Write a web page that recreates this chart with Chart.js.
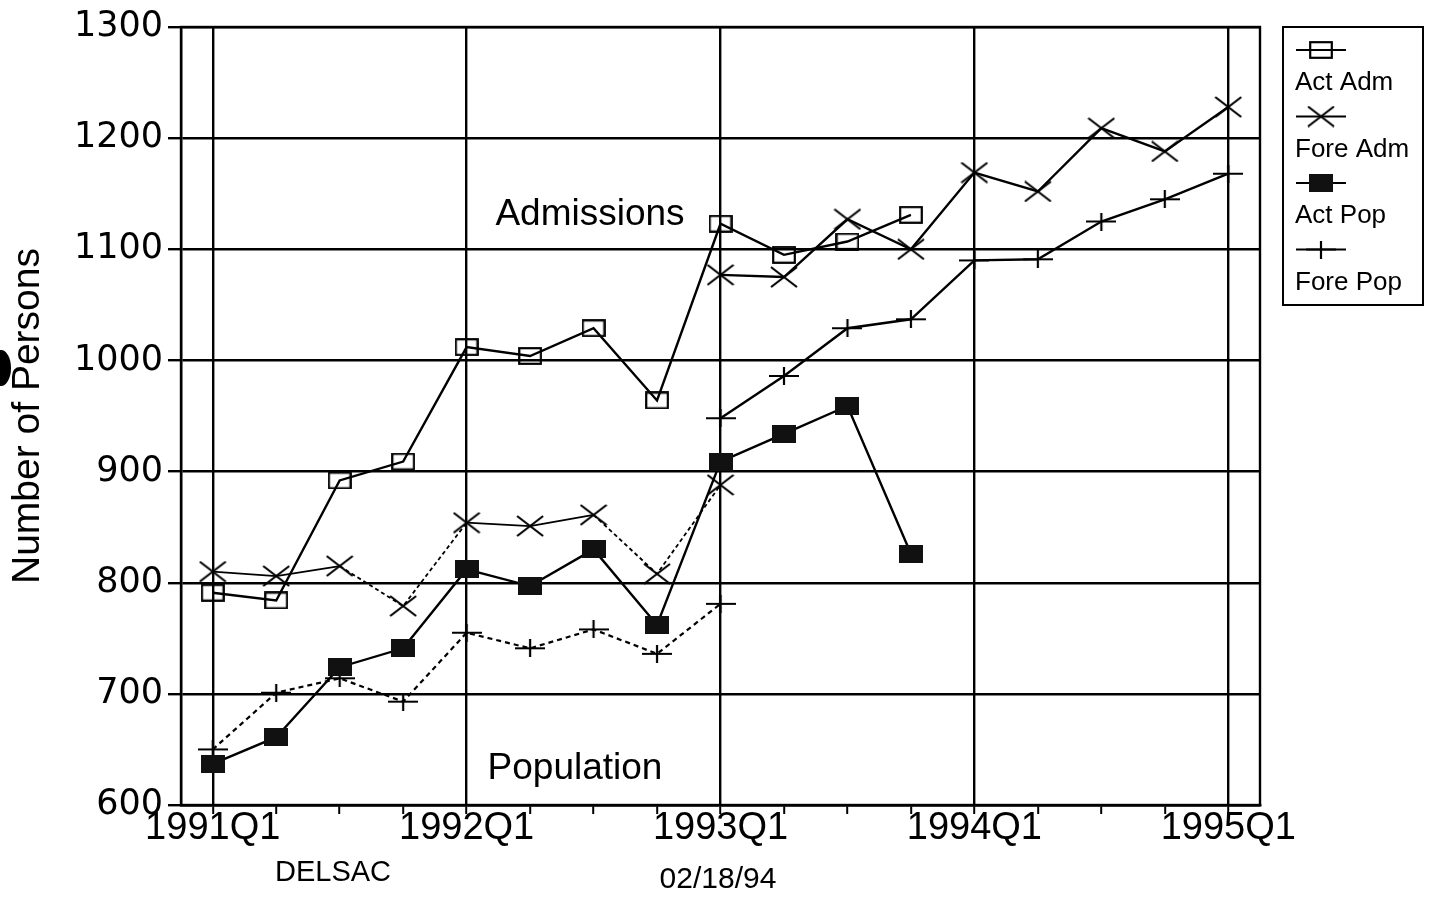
<!DOCTYPE html>
<html>
<head>
<meta charset="utf-8">
<title>DELSAC Admissions and Population</title>
<script src="https://cdn.jsdelivr.net/npm/chart.js@4.4.1/dist/chart.umd.min.js"></script>
<style>
  body { margin: 0; background: #fff; }
  #caixa { width: 1436px; height: 898px; }
</style>
</head>
<body>
<div id="caixa"><canvas id="cvs_grafico" width="1436" height="898"></canvas></div>
<script>
// dados (trimestres 1991Q1 .. 1995Q1)
const trimestres = ["1991Q1", "1991Q2", "1991Q3", "1991Q4",
  "1992Q1", "1992Q2", "1992Q3", "1992Q4",
  "1993Q1", "1993Q2", "1993Q3", "1993Q4",
  "1994Q1", "1994Q2", "1994Q3", "1994Q4", "1995Q1"];

const actAdm = [791, 784, 892, 909, 1012, 1004, 1029, 964, 1123, 1095, 1107, 1131, null, null, null, null, null];
const foreAdm = [null, null, null, null, null, null, null, null, 1077, 1075, 1127, 1100, 1169, 1152, 1209, 1188, 1228];
const foreAdmAntigo = [810, 806, 815, 779, 854, 851, 861, 808, 888, null, null, null, null, null, null, null, null];
const actPop = [637, 661, 724, 741, 812, 797, 830, 762, 909, 934, 959, 826, null, null, null, null, null];
const forePop = [null, null, null, null, null, null, null, null, 948, 986, 1029, 1037, 1090, 1091, 1125, 1145, 1168];
const forePopAntigo = [650, 701, 714, 693, 755, 741, 758, 736, 781, null, null, null, null, null, null, null, null];

const legendas = ["Act Adm", "Fore Adm", "Act Pop", "Fore Pop"];
const ticksY = [600, 700, 800, 900, 1000, 1100, 1200, 1300];

// MARCADORES (desenhados em canvas pequenos)
function criarMarcador(w, h, desenho) {
  const c = document.createElement("canvas");
  c.width = w;
  c.height = h;
  const g = c.getContext("2d");
  g.strokeStyle = "#000";
  g.fillStyle = "#000";
  g.lineWidth = 2.2;
  desenho(g, w, h);
  return c;
}

const mQuadrado = criarMarcador(24, 18, (g, w, h) => g.strokeRect(1.2, 1.2, w - 2.4, h - 2.4));
const mCheio = criarMarcador(24, 18, (g, w, h) => {
  g.fillStyle = "#111";
  g.fillRect(0, 0, w, h);
});
const mX = criarMarcador(28, 22, (g, w, h) => {
  g.beginPath();
  g.moveTo(1, 1); g.lineTo(w - 1, h - 1);
  g.moveTo(w - 1, 1); g.lineTo(1, h - 1);
  g.stroke();
});
const mMais = criarMarcador(30, 18, (g, w, h) => {
  g.beginPath();
  g.moveTo(0, h / 2); g.lineTo(w, h / 2);
  g.moveTo(w / 2, 0); g.lineTo(w / 2, h);
  g.stroke();
});

// TEXTOS, MOLDURA E LEGENDA
const extras = {
  id: "extras",
  afterDraw(chart) {
    const ctx = chart.ctx;
    const a = chart.chartArea;
    ctx.save();
    ctx.strokeStyle = "#000";
    ctx.lineWidth = 2.4;
    ctx.strokeRect(a.left, a.top, a.right - a.left, a.bottom - a.top);

    ctx.fillStyle = "#000";
    ctx.textAlign = "center";
    ctx.textBaseline = "middle";
    ctx.font = "37px 'Liberation Sans', Arial, sans-serif";
    ctx.fillText("Admissions", 590, 215);
    ctx.fillText("Population", 575, 769);
    ctx.font = "29px 'Liberation Sans', Arial, sans-serif";
    ctx.fillText("DELSAC", 333, 873);
    ctx.font = "30px 'Liberation Sans', Arial, sans-serif";
    ctx.fillText("02/18/94", 718, 880);

    ctx.save();
    ctx.translate(28, 416);
    ctx.rotate(-Math.PI / 2);
    ctx.font = "39px 'Liberation Sans', Arial, sans-serif";
    ctx.fillText("Number of Persons", 0, 0);
    ctx.restore();

    // mancha do furo na margem
    ctx.beginPath();
    ctx.ellipse(1, 368, 10, 18, 0, 0, Math.PI * 2);
    ctx.fill();

    // legenda
    ctx.lineWidth = 2;
    ctx.strokeRect(1283, 27, 140, 278);
    const marcas = [mQuadrado, mX, mCheio, mMais];
    ctx.textAlign = "left";
    ctx.font = "26px 'Liberation Sans', Arial, sans-serif";
    for (let i = 0; i < legendas.length; i++) {
      const y = 50 + i * 66.5;
      ctx.beginPath();
      ctx.moveTo(1296, y);
      ctx.lineTo(1346, y);
      ctx.stroke();
      const m = marcas[i];
      ctx.drawImage(m, 1321 - m.width / 2, y - m.height / 2);
      ctx.fillText(legendas[i], 1295, y + 33);
    }
    ctx.restore();
  },
};

const tracejadoAntigo = (ctx) =>
  [2, 3, 6, 7].includes(ctx.p0DataIndex) ? [4, 3] : undefined;

new Chart(document.getElementById("cvs_grafico"), {
  type: "line",
  data: {
    labels: trimestres,
    datasets: [
      { label: legendas[0], data: actAdm, pointStyle: mQuadrado, borderWidth: 2.4 },
      { label: legendas[1], data: foreAdm, pointStyle: mX, borderWidth: 2.4 },
      { label: legendas[2], data: actPop, pointStyle: mCheio, borderWidth: 2.4 },
      { label: legendas[3], data: forePop, pointStyle: mMais, borderWidth: 2.4 },
      {
        label: "Fore Adm (antigo)",
        data: foreAdmAntigo,
        pointStyle: mX,
        borderWidth: 1.8,
        segment: { borderDash: tracejadoAntigo },
      },
      {
        label: "Fore Pop (antigo)",
        data: forePopAntigo,
        pointStyle: mMais,
        borderWidth: 2.2,
        borderDash: [5, 4],
      },
    ],
  },
  options: {
    responsive: false,
    animation: false,
    layout: { padding: { top: 27, right: 176, bottom: 0, left: 0 } },
    elements: {
      line: { borderColor: "#000", tension: 0, fill: false },
      point: { radius: 8, borderColor: "#000", backgroundColor: "#000" },
    },
    plugins: {
      legend: { display: false },
      tooltip: { enabled: false },
    },
    scales: {
      x: {
        type: "category",
        offset: true,
        afterFit(scale) { scale.height = 93; },
        grid: {
          offset: false,
          lineWidth: 2.4,
          color: (c) => (c.index % 4 == 0 ? "#000" : "rgba(0,0,0,0)"),
          tickColor: "#000",
          tickWidth: 2,
          tickLength: 9,
        },
        border: { display: true, color: "#000", width: 2.4 },
        ticks: {
          autoSkip: false,
          maxRotation: 0,
          padding: -8,
          color: "#000",
          font: { family: "'Liberation Sans', Arial, sans-serif", size: 38 },
          callback: (v, i) => (i % 4 == 0 ? trimestres[i] : ""),
        },
      },
      y: {
        min: ticksY[0],
        max: ticksY[ticksY.length - 1],
        afterFit(scale) { scale.width = 181; },
        grid: { color: "#000", lineWidth: 2.4, tickLength: 13 },
        border: { display: true, color: "#000", width: 2.4 },
        ticks: {
          stepSize: 100,
          padding: 5,
          color: "#000",
          font: { family: "'DejaVu Sans', sans-serif", size: 35 },
          callback: (v) => String(v),
        },
      },
    },
  },
  plugins: [extras],
});
</script>
</body>
</html>
